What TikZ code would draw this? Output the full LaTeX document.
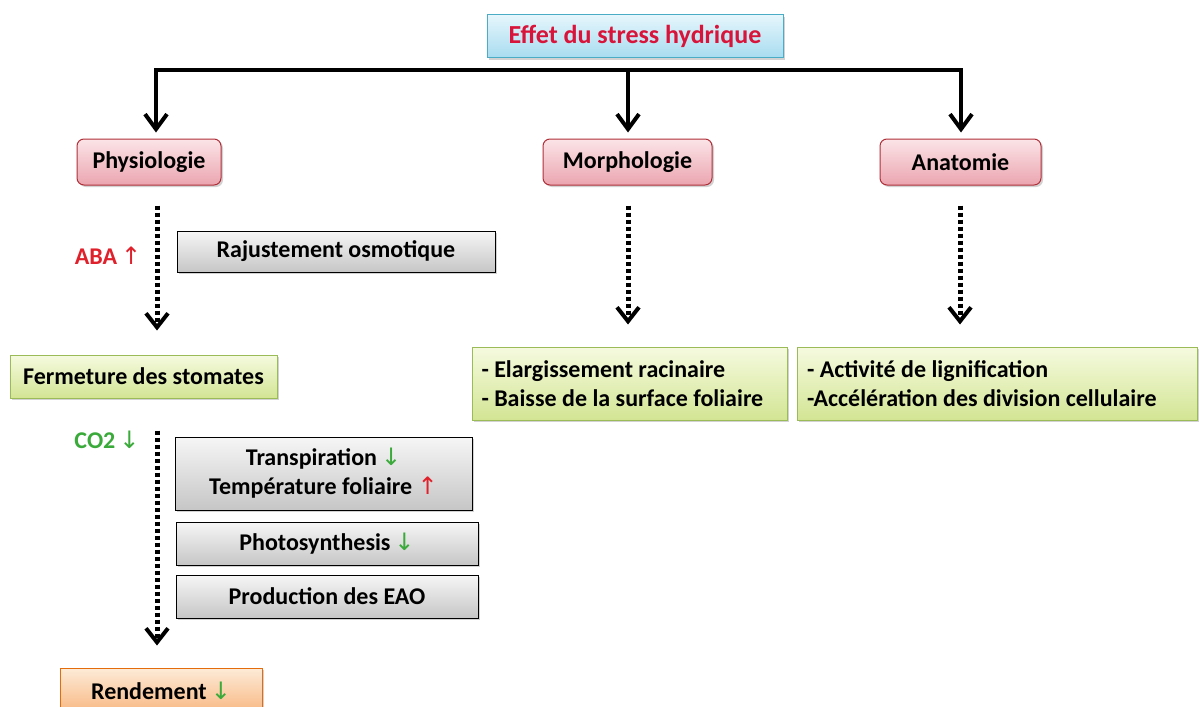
\documentclass[tikz,border=0pt]{standalone}
\usepackage{fontspec}
\setmainfont{Carlito}
\newfontfamily\arr{DejaVu Sans}
\usetikzlibrary{shadows,arrows.meta}
\definecolor{titred}{HTML}{D8143A}
\definecolor{upred}{HTML}{E0202A}
\definecolor{dngreen}{HTML}{3AAA3A}
\definecolor{bluebd}{HTML}{4BACC6}
\definecolor{bluetop}{HTML}{E6F6FC}
\definecolor{bluebot}{HTML}{A8DCF0}
\definecolor{pinkbd}{HTML}{B0303A}
\definecolor{pinktop}{HTML}{FBE4E7}
\definecolor{pinkbot}{HTML}{EBA5B0}
\definecolor{greenbd}{HTML}{9BBB59}
\definecolor{greentop}{HTML}{F5FADF}
\definecolor{greenbot}{HTML}{D3E594}
\definecolor{graytop}{HTML}{F6F6F6}
\definecolor{graybot}{HTML}{C6C6C6}
\definecolor{orbd}{HTML}{E46C0A}
\definecolor{ortop}{HTML}{FDEBD8}
\definecolor{orbot}{HTML}{F8B680}
\newcommand{\up}[1][upred]{\textcolor{#1}{\arr\mdseries ↑}}
\newcommand{\dn}[1][dngreen]{\textcolor{#1}{\arr\mdseries ↓}}
\tikzset{
  box/.style={draw, line width=1pt, minimum height=43pt, inner sep=2pt, align=center,
    drop shadow={shadow xshift=2pt, shadow yshift=-2pt, opacity=0.35}},
  titlebox/.style={box, draw=bluebd, top color=bluetop, bottom color=bluebot, text=titred,
    minimum width=296pt, minimum height=43pt, font=\bfseries\fontsize{26}{30}\selectfont},
  pinkbox/.style={box, draw=pinkbd, rounded corners=7pt, top color=pinktop, bottom color=pinkbot, minimum height=46pt},
  graybox/.style={box, draw=black, top color=graytop, bottom color=graybot},
  greenbox/.style={box, draw=greenbd, top color=greentop, bottom color=greenbot},
  orbox/.style={box, draw=orbd, top color=ortop, bottom color=orbot},
  solidarrow/.style={line width=4pt, -{Straight Barb[length=15pt,width=22pt,line width=4pt]}},
  dotarrow/.style={line width=5pt, dash pattern=on 4pt off 3pt, -{Straight Barb[length=14pt,width=22pt,line width=4pt]}},
}
\begin{document}
\begin{tikzpicture}[x=1pt,y=-1pt, font=\bfseries\fontsize{24}{29}\selectfont]
\useasboundingbox[fill=white] (0,0) rectangle (1203,707);

\node[titlebox] (title) at (635,36) {Effet du stress hydrique};

\node[pinkbox, minimum width=144pt] (phys) at (149,162) {Physiologie};
\node[pinkbox, minimum width=169pt] (morph) at (627.5,162) {Morphologie};
\node[pinkbox, minimum width=161pt] (anat) at (960.5,162) {Anatomie};

\node[graybox, minimum width=318pt, minimum height=41pt] (raj) at (336,251.5) {Rajustement osmotique};
\node[text=upred] (aba) at (108,256) {ABA\,\up};

\node[greenbox, minimum width=267pt] (ferm) at (143.5,376.5) {Fermeture des stomates};
\node[greenbox, minimum width=315pt, minimum height=73pt, text width=296pt, align=flush left] (elarg) at (629.5,383.5)
  {- Elargissement racinaire\\- Baisse de la surface foliaire};
\node[greenbox, minimum width=400pt, minimum height=73pt, text width=380pt, align=flush left] (activ) at (997,383.5)
  {- Activité de lignification\\-Accélération des division cellulaire};

\node[text=dngreen] (co2) at (107,440) {CO2\,\dn};
\node[graybox, minimum width=297pt, minimum height=73pt] (transp) at (323.5,473.5)
  {Transpiration\,\dn\\Température foliaire \up};
\node[graybox, minimum width=302pt] (photo) at (327,543.5) {Photosynthesis\,\dn};
\node[graybox, minimum width=302pt] (prod) at (327,596.5) {Production des EAO};
\node[orbox, minimum width=202pt, minimum height=46pt] (rend) at (161,691) {Rendement\,\dn};

% tree bar
\coordinate (barl) at (156,70);
\coordinate (barm) at (628,70);
\coordinate (barr) at (961,70);
\draw[line width=4pt, line cap=rect] (barl) -- (barr);
\draw[solidarrow, shorten >=6pt] (barl) -- (phys.north -| barl);
\draw[solidarrow, shorten >=6pt] (barm) -- (morph.north -| barm);
\draw[solidarrow, shorten >=6pt] (barr) -- (anat.north -| barr);

% dotted arrows
\coordinate (xp) at (157,0);
\coordinate (xm) at (628,0);
\coordinate (xa) at (960,0);
\draw[dotarrow, shorten <=20pt, shorten >=24pt] (phys.south -| xp) -- (ferm.north -| xp);
\draw[dotarrow, shorten <=20pt, shorten >=22pt] (morph.south -| xm) -- (elarg.north -| xm);
\draw[dotarrow, shorten <=20pt, shorten >=22pt] (anat.south -| xa) -- (activ.north -| xa);
\draw[dotarrow, shorten <=32pt, shorten >=22pt] (ferm.south -| xp) -- (rend.north -| xp);
\end{tikzpicture}
\end{document}
